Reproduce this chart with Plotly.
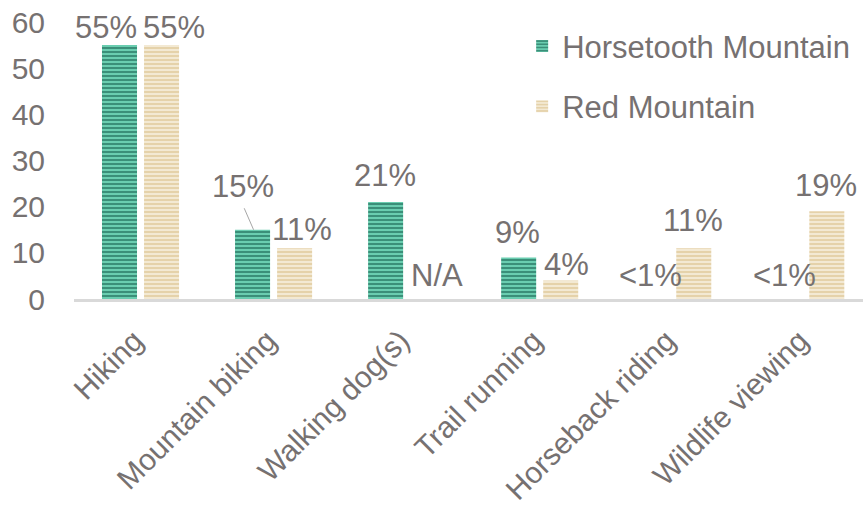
import plotly.graph_objects as go

categories = ["Hiking", "Mountain biking", "Walking dog(s)", "Trail running", "Horseback riding", "Wildlife viewing"]
horsetooth = [55, 15, 21, 9, 0, 0]
red_mtn = [55, 11, 0, 4, 11, 19]
horsetooth_labels = ["55%", "15%", "21%", "9%", "<1%", "<1%"]
red_labels = ["55%", "11%", "N/A", "4%", "11%", "19%"]
y_ticks = [0, 10, 20, 30, 40, 50, 60]

TXT = "#767171"
FONT = "Liberation Sans, Arial, sans-serif"

fig = go.Figure()
fig.add_trace(go.Bar(
    x=categories, y=horsetooth, name="Horsetooth Mountain", legendgroup="a",
    marker=dict(color="#2f9e80", line=dict(width=0),
                pattern=dict(shape="-", fgcolor="#0c5242", bgcolor="#6acdb0", size=4, solidity=0.5)),
))
fig.add_trace(go.Bar(
    x=categories, y=red_mtn, name="Red Mountain", legendgroup="b",
    marker=dict(color="#e2cc99", line=dict(width=0),
                pattern=dict(shape="-", fgcolor="#d7bb81", bgcolor="#f3e9d3", size=4, solidity=0.5)),
))

# label offsets (pixels) from category centre / bar top
h_off = [(-35, 18), (-31, 43), (-22, 27), (-22, 25), (-22, 24), (-21, 24)]
r_off = [(33, 18), (28, 19), (30, 24), (27, 16), (20, 28), (20, 26)]
for i, c in enumerate(categories):
    dx, dy = h_off[i]
    fig.add_annotation(x=c, y=horsetooth[i], text=horsetooth_labels[i], showarrow=False,
                       xshift=dx, yshift=dy, font=dict(size=31, color=TXT, family=FONT))
    dx, dy = r_off[i]
    fig.add_annotation(x=c, y=red_mtn[i], text=red_labels[i], showarrow=False,
                       xshift=dx, yshift=dy, font=dict(size=31, color=TXT, family=FONT))

# leader line for Mountain biking Horsetooth label
fig.add_annotation(x=categories[1], y=horsetooth[1], ax=-10, ay=-23, xshift=-20,
                   text="", showarrow=True, arrowhead=0, arrowwidth=1, arrowcolor="#a6a6a6")

fig.update_layout(
    width=863, height=507,
    margin=dict(l=74, r=0, t=22, b=208, autoexpand=False),
    paper_bgcolor="white", plot_bgcolor="white",
    barmode="group", bargap=0.368, bargroupgap=0.167,
    font=dict(family=FONT, color=TXT, size=28),
    showlegend=True,
    legend=dict(x=0.568, y=1.01, xanchor="left", yanchor="top", bgcolor="rgba(0,0,0,0)",
                font=dict(size=31, color=TXT), tracegroupgap=17, traceorder="grouped",
                itemwidth=30),
    xaxis=dict(showgrid=False, showline=True, linecolor="#d9d9d9", linewidth=3,
               range=[-0.5, 5.43],
               tickangle=-45, tickfont=dict(size=30, color=TXT), ticks="", automargin=False,
               ticklabelstandoff=9, ticklabelshift=-6),
    yaxis=dict(range=[0, 60], tickvals=y_ticks, showgrid=False, zeroline=False, showline=False,
               tickfont=dict(size=30, color=TXT), ticklabelstandoff=28, automargin=False,
               ticklabeloverflow="allow"),
)

fig.write_html("out.html", config={"displayModeBar": False},
               post_script="document.body.style.margin='0';")
